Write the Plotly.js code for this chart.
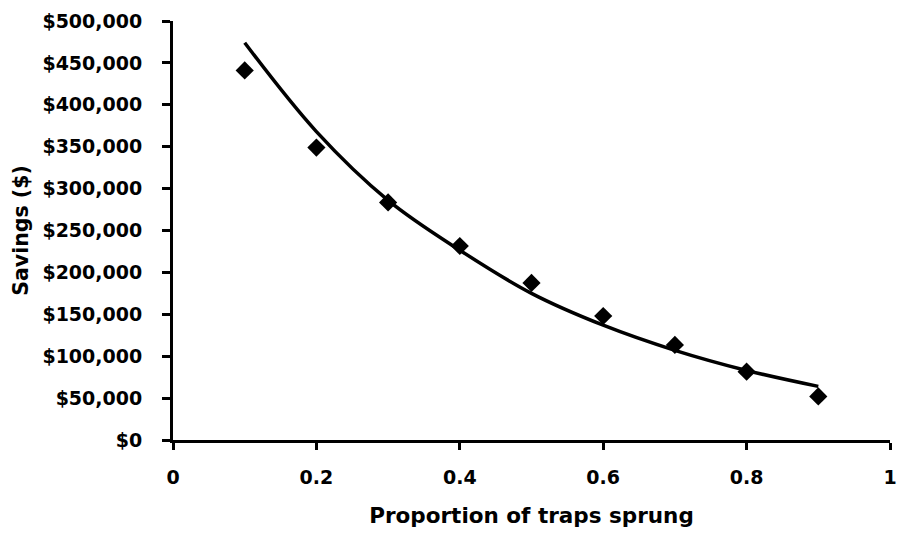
<!DOCTYPE html>
<html>
<head>
<meta charset="utf-8">
<script src="https://cdn.plot.ly/plotly-3.0.1.min.js"></script>
<style>html,body{margin:0;padding:0;background:#fff;}#chart{width:899px;height:533px;}</style>
</head>
<body>
<div id="chart"></div>
<script>
// Observed data points (proportion of traps sprung vs savings)
const proportion = [0.1, 0.2, 0.3, 0.4, 0.5, 0.6, 0.7, 0.8, 0.9];
const savings = [441000, 349000, 283500, 231500, 187500, 148000, 113500, 81500, 52000];
// Trend line at the same x positions
const trendSavings = [474000, 368000, 286000, 226500, 175000, 137000, 107000, 83000, 64000];

const xTickVals = [0, 0.2, 0.4, 0.6, 0.8, 1];
const xTickText = ['0', '0.2', '0.4', '0.6', '0.8', '1'];
const yTickVals = [0, 50000, 100000, 150000, 200000, 250000, 300000, 350000, 400000, 450000, 500000];
const yTickText = ['$0', '$50,000', '$100,000', '$150,000', '$200,000', '$250,000', '$300,000', '$350,000', '$400,000', '$450,000', '$500,000'];

const FONT = 'DejaVu Sans, Verdana, sans-serif';

const traces = [
  {
    x: proportion, y: trendSavings, type: 'scatter', mode: 'lines',
    line: {color: '#000000', width: 3.5, shape: 'spline', smoothing: 1},
    hoverinfo: 'skip', showlegend: false
  },
  {
    x: proportion, y: savings, type: 'scatter', mode: 'markers',
    marker: {symbol: 'diamond', size: 14, color: '#000000', line: {width: 0}},
    showlegend: false
  }
];

const layout = {
  width: 899, height: 533,
  margin: {l: 173, r: 9, t: 21, b: 93},
  paper_bgcolor: '#ffffff', plot_bgcolor: '#ffffff',
  showlegend: false,
  font: {family: FONT, color: '#000000', size: 19, weight: 700},
  xaxis: {
    range: [0, 1], tickvals: xTickVals, ticktext: xTickText,
    showgrid: false, zeroline: false,
    showline: true, linecolor: '#000000', linewidth: 3,
    ticks: 'outside', ticklen: 7, tickwidth: 3, tickcolor: '#000000',
    tickfont: {family: FONT, size: 19, color: '#000000', weight: 700},
    ticklabelstandoff: 11,
    ticklabeloverflow: 'allow',
    title: {text: 'Proportion of traps sprung', font: {family: FONT, size: 21.5, color: '#000000', weight: 700}, standoff: 22}
  },
  yaxis: {
    range: [0, 500000], tickvals: yTickVals, ticktext: yTickText,
    showgrid: false, zeroline: false,
    showline: true, linecolor: '#000000', linewidth: 3,
    ticks: 'outside', ticklen: 8, tickwidth: 3, tickcolor: '#000000',
    tickfont: {family: FONT, size: 19, color: '#000000', weight: 700},
    ticklabelstandoff: 16,
    title: {text: 'Savings ($)', font: {family: FONT, size: 20.5, color: '#000000', weight: 700}, standoff: 9}
  }
};

Plotly.newPlot('chart', traces, layout, {displayModeBar: false, staticPlot: true});
</script>
</body>
</html>
